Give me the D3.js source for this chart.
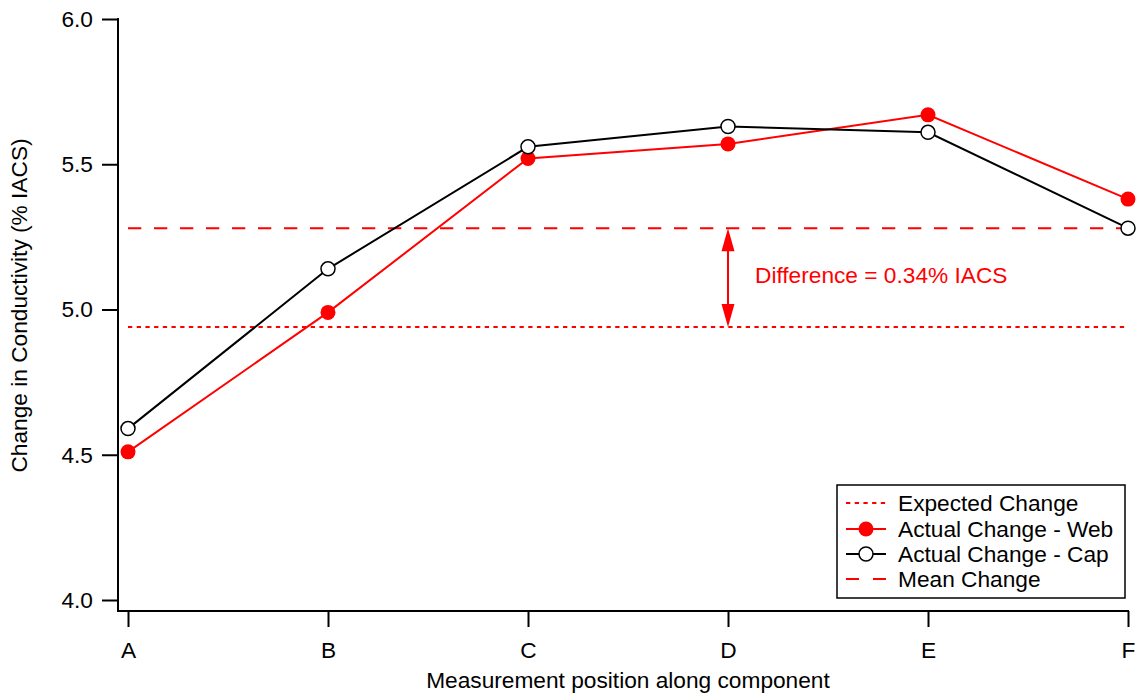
<!DOCTYPE html>
<html>
<head>
<meta charset="utf-8">
<script src="https://cdn.jsdelivr.net/npm/d3@7"></script>
<style>
  html, body { margin: 0; padding: 0; background: #fff; }
  svg text { font-family: "Liberation Sans", Arial, sans-serif; }
</style>
</head>
<body>
<div id="chart"></div>
<script>
// positions along the component
var categories = ["A", "B", "C", "D", "E", "F"];
// change in conductivity, % IACS
var webValues = [4.51, 4.99, 5.52, 5.57, 5.67, 5.38];
var capValues = [4.59, 5.14, 5.56, 5.63, 5.61, 5.28];
var expectedChange = 4.94;
var meanChange = 5.28;
var yTicks = [4.0, 4.5, 5.0, 5.5, 6.0];
var legendLabels = ["Expected Change", "Actual Change - Web", "Actual Change - Cap", "Mean Change"];

var W = 1137, H = 693;
var RED = "#ff0000";
var FS = "22.7px";

var svg = d3.select("#chart").append("svg")
  .attr("width", W)
  .attr("height", H);

var x = d3.scalePoint().domain(categories).range([128, 1128]);
var y = d3.scaleLinear().domain([4, 6]).range([600, 19]);
var axisX = 118, axisY = 611;

// axes
var yAxis = svg.append("g")
  .attr("transform", "translate(" + axisX + ",0)")
  .call(d3.axisLeft(y).tickValues(yTicks).tickFormat(d3.format(".1f"))
    .tickSize(16).tickPadding(9));
yAxis.select(".domain").remove();

var xAxis = svg.append("g")
  .attr("transform", "translate(0," + axisY + ")")
  .call(d3.axisBottom(x).tickSize(16).tickPadding(15));
xAxis.select(".domain").remove();

svg.selectAll(".tick line").attr("stroke", "#000").attr("stroke-width", 2);
svg.selectAll(".tick text").style("font-size", FS).attr("fill", "#000");

svg.append("line")
  .attr("x1", axisX).attr("x2", axisX)
  .attr("y1", y(6) - 1).attr("y2", axisY + 1)
  .attr("stroke", "#000").attr("stroke-width", 2);
svg.append("line")
  .attr("x1", axisX - 1).attr("x2", x("F") + 1)
  .attr("y1", axisY).attr("y2", axisY)
  .attr("stroke", "#000").attr("stroke-width", 2);

// axis titles
svg.append("text")
  .attr("x", (axisX + x("F")) / 2 + 5).attr("y", 688)
  .attr("text-anchor", "middle")
  .style("font-size", FS)
  .text("Measurement position along component");

svg.append("text")
  .attr("transform", "translate(27," + (y(5) - 4) + ") rotate(-90)")
  .attr("text-anchor", "middle")
  .style("font-size", FS)
  .text("Change in Conductivity (% IACS)");

// reference lines
svg.append("line")
  .attr("x1", x("A")).attr("x2", x("F"))
  .attr("y1", y(expectedChange)).attr("y2", y(expectedChange))
  .attr("stroke", RED).attr("stroke-width", 2)
  .attr("stroke-dasharray", "4.3,4.4");

svg.append("line")
  .attr("x1", x("A")).attr("x2", x("F"))
  .attr("y1", y(meanChange)).attr("y2", y(meanChange))
  .attr("stroke", RED).attr("stroke-width", 2)
  .attr("stroke-dasharray", "13.3,12.7");

// difference arrow at D
var ax = x("D"), yTop = y(meanChange), yBot = y(expectedChange);
var headL = 23, headW = 6.5;
svg.append("line")
  .attr("x1", ax).attr("x2", ax)
  .attr("y1", yTop + headL - 2).attr("y2", yBot - headL + 2)
  .attr("stroke", RED).attr("stroke-width", 2);
svg.append("path")
  .attr("d", "M" + ax + "," + yTop + "L" + (ax - headW) + "," + (yTop + headL) +
    "L" + (ax + headW) + "," + (yTop + headL) + "Z")
  .attr("fill", RED);
svg.append("path")
  .attr("d", "M" + ax + "," + yBot + "L" + (ax - headW) + "," + (yBot - headL) +
    "L" + (ax + headW) + "," + (yBot - headL) + "Z")
  .attr("fill", RED);

svg.append("text")
  .attr("x", ax + 27).attr("y", (yTop + yBot) / 2 + 5)
  .attr("fill", RED)
  .style("font-size", FS)
  .text("Difference = " + (meanChange - expectedChange).toFixed(2) + "% IACS");

// data series
var line = d3.line()
  .x(function (d, i) { return x(categories[i]); })
  .y(function (d) { return y(d); });

svg.append("path")
  .datum(webValues)
  .attr("d", line)
  .attr("fill", "none")
  .attr("stroke", RED).attr("stroke-width", 2);

svg.append("g").selectAll("circle")
  .data(webValues)
  .enter().append("circle")
  .attr("cx", function (d, i) { return x(categories[i]); })
  .attr("cy", function (d) { return y(d); })
  .attr("r", 7.5)
  .attr("fill", RED);

svg.append("path")
  .datum(capValues)
  .attr("d", line)
  .attr("fill", "none")
  .attr("stroke", "#000").attr("stroke-width", 2);

svg.append("g").selectAll("circle")
  .data(capValues)
  .enter().append("circle")
  .attr("cx", function (d, i) { return x(categories[i]); })
  .attr("cy", function (d) { return y(d); })
  .attr("r", 7)
  .attr("fill", "#fff")
  .attr("stroke", "#000").attr("stroke-width", 1.5);

// legend
var lg = svg.append("g");
lg.append("rect")
  .attr("x", 837).attr("y", 485)
  .attr("width", 288).attr("height", 113)
  .attr("fill", "#fff")
  .attr("stroke", "#000").attr("stroke-width", 1.5);

var rowY = [503, 529, 554, 579];
var sx1 = 846, sx2 = 886, sxm = 866;

lg.append("line").attr("x1", sx1).attr("x2", sx2).attr("y1", rowY[0]).attr("y2", rowY[0])
  .attr("stroke", RED).attr("stroke-width", 2).attr("stroke-dasharray", "4.3,4.4");
lg.append("line").attr("x1", sx1).attr("x2", sx2).attr("y1", rowY[1]).attr("y2", rowY[1])
  .attr("stroke", RED).attr("stroke-width", 2);
lg.append("circle").attr("cx", sxm).attr("cy", rowY[1]).attr("r", 7.5).attr("fill", RED);
lg.append("line").attr("x1", sx1).attr("x2", sx2).attr("y1", rowY[2]).attr("y2", rowY[2])
  .attr("stroke", "#000").attr("stroke-width", 2);
lg.append("circle").attr("cx", sxm).attr("cy", rowY[2]).attr("r", 7)
  .attr("fill", "#fff").attr("stroke", "#000").attr("stroke-width", 1.5);
lg.append("line").attr("x1", sx1).attr("x2", sx2).attr("y1", rowY[3]).attr("y2", rowY[3])
  .attr("stroke", RED).attr("stroke-width", 2).attr("stroke-dasharray", "13,14");

lg.selectAll("text.lbl")
  .data(legendLabels)
  .enter().append("text")
  .attr("class", "lbl")
  .attr("x", 898)
  .attr("y", function (d, i) { return rowY[i] + 8; })
  .style("font-size", FS)
  .text(function (d) { return d; });
</script>
</body>
</html>
